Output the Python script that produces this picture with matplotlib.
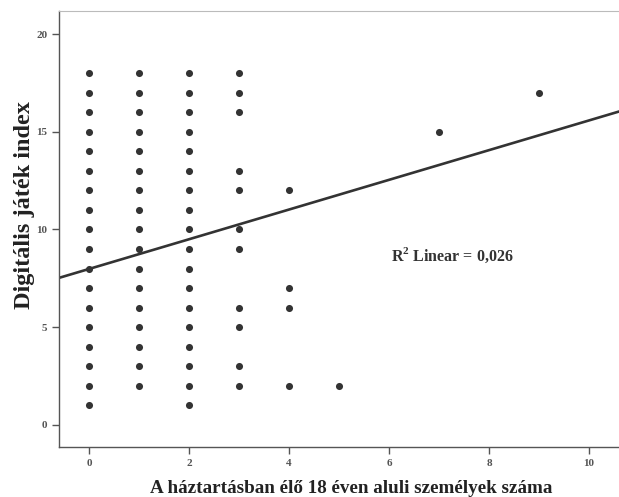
import matplotlib
matplotlib.use("Agg")
import matplotlib.pyplot as plt

# household members under 18 (x) and digital game index (y)
col0 = list(range(1, 19))
col1 = list(range(2, 19))
col2 = list(range(1, 19))
col3 = [2, 3, 5, 6, 9, 10, 12, 13, 16, 17, 18]
col4 = [2, 6, 7, 12]
col5 = [2]
col7 = [15]
col9 = [17]

xs = [0] * len(col0) + [1] * len(col1) + [2] * len(col2) + [3] * len(col3) \
    + [4] * len(col4) + [5] * len(col5) + [7] * len(col7) + [9] * len(col9)
ys = col0 + col1 + col2 + col3 + col4 + col5 + col7 + col9

# fit line
intercept = 7.98
slope = 0.76

xticks = [0, 2, 4, 6, 8, 10]
yticks = [0, 5, 10, 15, 20]

plt.rcParams['font.family'] = ['Liberation Serif', 'DejaVu Serif']
plt.rcParams['mathtext.fontset'] = 'custom'
plt.rcParams['mathtext.rm'] = 'Liberation Serif'
plt.rcParams['mathtext.bf'] = 'Liberation Serif:bold'

fig = plt.figure(figsize=(6.19, 4.97), dpi=100)
ax = fig.add_axes([59 / 619, 50 / 497, 560 / 619, 436 / 497])

ax.scatter(xs, ys, s=26, color='#333333', zorder=3, linewidths=0)

x0, x1 = -0.6, 10.6
ax.plot([x0, x1], [intercept + slope * x0, intercept + slope * x1],
        color='#333333', lw=1.9, zorder=2)

ax.set_xlim(x0, x1)
ax.set_ylim(-1.13, 21.18)
ax.set_xticks(xticks)
ax.set_yticks(yticks)
ax.tick_params(direction='out', length=5, width=1, color='#555555',
               labelsize=8, labelcolor='#555555')
for lab in ax.get_xticklabels() + ax.get_yticklabels():
    lab.set_fontweight('bold')

for s in ['left', 'bottom']:
    ax.spines[s].set_color('#555555')
    ax.spines[s].set_linewidth(1)
ax.spines['top'].set_color('#bbbbbb')
ax.spines['top'].set_linewidth(0.8)
ax.spines['right'].set_visible(False)

ax.text(7.26, 8.7, "R$^\\mathbf{2}$ Linear = 0,026", ha='center', va='center',
        fontsize=11.5, fontweight='bold', color='#333333')

ax.set_xlabel("A háztartásban élő 18 éven aluli személyek száma",
              fontsize=13.8, fontweight='bold', color='#222222')
ax.set_ylabel("Digitális játék index", fontsize=17.5, fontweight='bold',
              color='#222222')
ax.xaxis.set_label_coords(0.521, -0.076)
ax.yaxis.set_label_coords(-0.043, 0.555)

fig.savefig("out.png", dpi=100)
